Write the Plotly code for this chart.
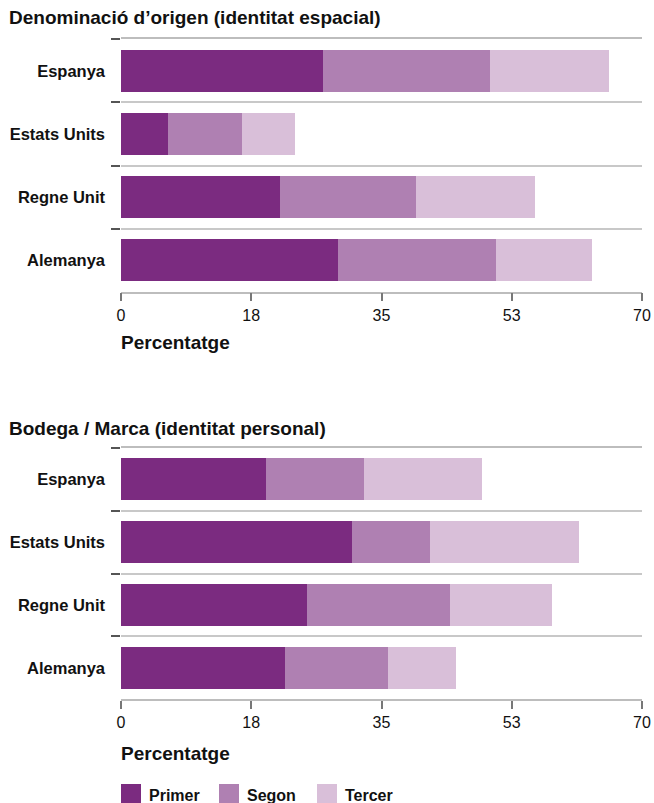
import plotly.graph_objects as go

# Countries (top to bottom) and the share of mentions at each rank
countries = ["Espanya", "Estats Units", "Regne Unit", "Alemanya"]
series_names = ["Primer", "Segon", "Tercer"]

# Denominació d'origen (identitat espacial)
origen_primer = [27.1, 6.3, 21.4, 29.2]
origen_segon = [22.5, 10.0, 18.3, 21.2]
origen_tercer = [15.9, 7.1, 15.9, 12.9]

# Bodega / Marca (identitat personal)
marca_primer = [19.5, 31.1, 25.0, 22.1]
marca_segon = [13.2, 10.4, 19.2, 13.8]
marca_tercer = [15.8, 20.1, 13.7, 9.1]

tick_vals = [0, 17.5, 35, 52.5, 70]
tick_text = ["0", "18", "35", "53", "70"]

colors = ["#7b2b80", "#af80b2", "#d9bfd9"]
FONT = "Liberation Sans, Arial, sans-serif"
W, H = 654, 803

fig = go.Figure()

panels = [
    ("x", "y", [origen_primer, origen_segon, origen_tercer]),
    ("x2", "y2", [marca_primer, marca_segon, marca_tercer]),
]
for xa, ya, vals in panels:
    for name, v, c in zip(series_names, vals, colors):
        fig.add_trace(go.Bar(
            x=v, y=countries, orientation="h", name=name,
            marker=dict(color=c, line=dict(width=0)),
            xaxis=xa, yaxis=ya, showlegend=False,
            hovertemplate="%{y}: %{x}<extra>" + name + "</extra>",
        ))


def px_y(y):
    return 1 - y / H


def px_x(x):
    return x / W


x_dom = [px_x(121), px_x(642)]
top_dom = [px_y(291.7), px_y(39.3)]
bot_dom = [px_y(699.3), px_y(447.7)]

xaxis_common = dict(
    range=[0, 70], tickvals=tick_vals, ticktext=tick_text,
    ticks="outside", ticklen=8, tickwidth=1.5, tickcolor="#777",
    showline=True, mirror=True, linecolor="#bdbdbd", linewidth=1.5,
    showgrid=False, zeroline=False, fixedrange=True, automargin=False,
    tickfont=dict(family=FONT, size=16, color="#111"),
    domain=x_dom,
)
yaxis_common = dict(
    type="category", categoryorder="array", categoryarray=countries,
    autorange="reversed",
    tickson="boundaries", ticks="outside", ticklen=9, tickwidth=2,
    tickcolor="#555", showgrid=True, gridcolor="#c8c8c8", gridwidth=1.5,
    showline=False, zeroline=False, fixedrange=True, automargin=False,
    ticklabelstandoff=15,
    tickfont=dict(family=FONT, size=16.5, color="#111", weight="bold"),
)

fig.update_layout(
    width=W, height=H,
    margin=dict(l=0, r=0, t=0, b=0),
    paper_bgcolor="white", plot_bgcolor="white",
    barmode="stack", bargap=0.33,
    font=dict(family=FONT, color="#111"),
    xaxis=dict(anchor="y", **xaxis_common),
    yaxis=dict(anchor="x", domain=top_dom, **yaxis_common),
    xaxis2=dict(anchor="y2", **xaxis_common),
    yaxis2=dict(anchor="x2", domain=bot_dom, **yaxis_common),
    showlegend=False,
)

annotations = []
# Panel titles
for text, y in [("Denominació d’origen (identitat espacial)", 18),
                ("Bodega / Marca (identitat personal)", 428)]:
    annotations.append(dict(
        text=text, xref="paper", yref="paper", x=px_x(7), y=px_y(y),
        xanchor="left", yanchor="middle", showarrow=False,
        font=dict(family=FONT, size=19, color="#111", weight="bold"),
    ))
# Axis titles
for y in [343, 753]:
    annotations.append(dict(
        text="Percentatge", xref="paper", yref="paper", x=px_x(119), y=px_y(y),
        xanchor="left", yanchor="middle", showarrow=False,
        font=dict(family=FONT, size=19, color="#111", weight="bold"),
    ))

# Legend: swatches and labels along the bottom
shapes = []
legend_x = [121, 219, 317]
for name, c, lx in zip(series_names, colors, legend_x):
    shapes.append(dict(
        type="rect", xref="paper", yref="paper",
        x0=px_x(lx), x1=px_x(lx + 20), y0=px_y(804), y1=px_y(784),
        fillcolor=c, line=dict(width=0),
    ))
    annotations.append(dict(
        text=name, xref="paper", yref="paper", x=px_x(lx + 26), y=px_y(795.5),
        xanchor="left", yanchor="middle", showarrow=False,
        font=dict(family=FONT, size=16, color="#111", weight="bold"),
    ))

fig.update_layout(annotations=annotations, shapes=shapes)

fig.write_html("out.html")
